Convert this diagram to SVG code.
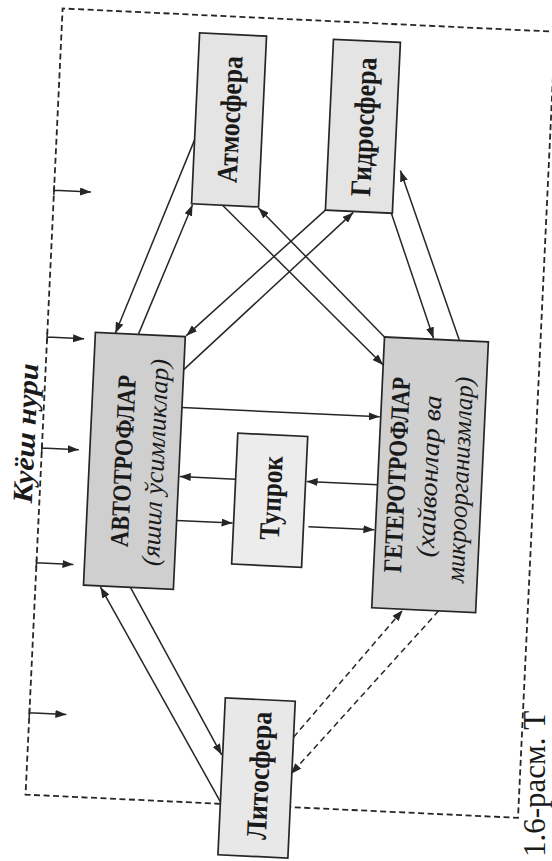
<svg xmlns="http://www.w3.org/2000/svg" width="552" height="861" viewBox="0 0 552 861">
<defs>
<style>
.box{stroke:#262626;stroke-width:1.7}
.c{stroke:#262626;stroke-width:1.5;fill:none;marker-end:url(#ah)}
.d{stroke-dasharray:6 4}
.fr{stroke:#262626;stroke-width:1.8;fill:none;stroke-dasharray:6 3.5}
.t{font-family:"Liberation Serif","Times New Roman",serif;font-weight:bold;fill:#1a1a1a;text-anchor:middle;dominant-baseline:central}
.i{font-style:italic}
.n{font-weight:normal}
</style>
<marker id="ah" viewBox="0 0 11 8" refX="11" refY="4" markerWidth="11" markerHeight="8" markerUnits="userSpaceOnUse" orient="auto">
<path d="M0,0 L11,4 L0,8 z" fill="#262626"/>
</marker>
</defs>
<rect width="552" height="861" fill="#ffffff"/>
<g transform="rotate(2.7 276 430)">
<g id="frame">
<path class="fr" d="M238,806 H43 V19 H536 V806 H308"/>
<text class="t i" x="26" y="445" font-size="28" textLength="140" lengthAdjust="spacingAndGlyphs" transform="rotate(-90 26 445)">Куёш нури</text>
</g>
<g id="atmosfera">
<rect class="box" x="181" y="37" width="67" height="171" fill="#e4e4e4"/>
<text class="t" x="215" y="122" font-size="29" textLength="127" lengthAdjust="spacingAndGlyphs" transform="rotate(-90 215 122)">Атмосфера</text>
</g>
<g id="gidrosfera">
<rect class="box" x="315" y="37" width="67" height="171" fill="#e4e4e4"/>
<text class="t" x="349" y="123" font-size="29" textLength="139" lengthAdjust="spacingAndGlyphs" transform="rotate(-90 349 123)">Гидросфера</text>
</g>
<g id="avtotroflar">
<rect class="box" x="91" y="341" width="90" height="253" fill="#cfcfcf"/>
<text class="t" x="125" y="468" font-size="26" textLength="172" lengthAdjust="spacingAndGlyphs" transform="rotate(-90 125 468)">АВТОТРОФЛАР</text>
<text class="t i n" x="157" y="468" font-size="26" textLength="207" lengthAdjust="spacingAndGlyphs" transform="rotate(-90 157 468)">(яшил ўсимликлар)</text>
</g>
<g id="geterotroflar">
<rect class="box" x="380" y="332" width="104" height="271" fill="#d0d0d0"/>
<text class="t" x="399" y="469" font-size="26" textLength="196" lengthAdjust="spacingAndGlyphs" transform="rotate(-90 399 469)">ГЕТЕРОТРОФЛАР</text>
<text class="t i n" x="431" y="469" font-size="26" textLength="162" lengthAdjust="spacingAndGlyphs" transform="rotate(-90 431 469)">(хайвонлар ва</text>
<text class="t i n" x="462" y="471" font-size="26" textLength="206" lengthAdjust="spacingAndGlyphs" transform="rotate(-90 462 471)">микроорганизмлар)</text>
</g>
<g id="tuprok">
<rect class="box" x="238" y="435" width="70" height="131" fill="#ececec"/>
<text class="t" x="274" y="498" font-size="29" textLength="84" lengthAdjust="spacingAndGlyphs" transform="rotate(-90 274 498)">Тупрок</text>
</g>
<g id="litosfera">
<rect class="box" x="238" y="700" width="70" height="157" fill="#e8e8e8"/>
<text class="t" x="275" y="776" font-size="29" textLength="128" lengthAdjust="spacingAndGlyphs" transform="rotate(-90 275 776)">Литосфера</text>
</g>
<g id="connectors">
<path class="c" d="M43,196 V206 M43,201 H80"/>
<path class="c" d="M43,343 V353 M43,348 H80"/>
<path class="c" d="M43,454 V464 M43,459 H80"/>
<path class="c" d="M43,569 V579 M43,574 H80"/>
<path class="c" d="M43,719 V729 M43,724 H80"/>
<path class="c" d="M181,144 L111,341"/>
<path class="c" d="M134,341 L182,209"/>
<path class="c" d="M212,208 L380,360"/>
<path class="c" d="M380,332 L248,209"/>
<path class="c" d="M315,208 L182,340"/>
<path class="c" d="M181,374 L343,209"/>
<path class="c" d="M381,208 L429,331"/>
<path class="c" d="M455,332 L388,165"/>
<path class="c" d="M181,412 H379"/>
<path class="c" d="M238,481 H182"/>
<path class="c" d="M181,525 H237"/>
<path class="c" d="M380,480 H309"/>
<path class="c" d="M313,525 H379"/>
<path class="c" d="M238,804 L108,595"/>
<path class="c" d="M138,594 L237,757"/>
<path class="c d" d="M308,736 L411,604"/>
<path class="c d" d="M447,603 L307,773"/>
</g>
</g>
<text class="t n" x="0" y="0" font-size="31" style="text-anchor:start;dominant-baseline:auto" transform="translate(545,857) rotate(-90)">1.6-расм. Т</text>
</svg>
